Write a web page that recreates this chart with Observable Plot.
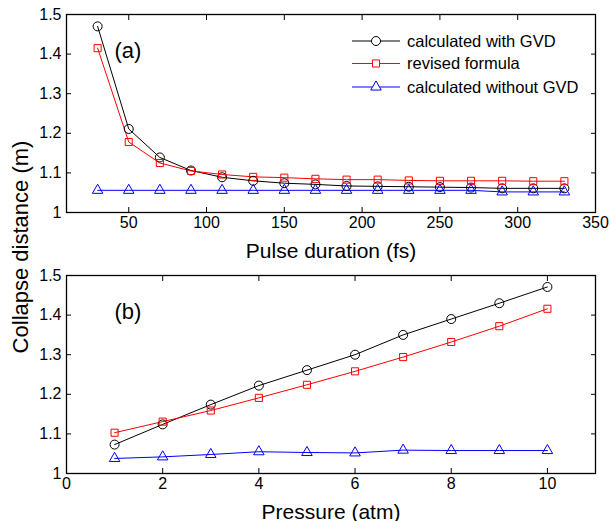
<!DOCTYPE html>
<html><head><meta charset="utf-8">
<script src="https://cdn.jsdelivr.net/npm/d3@7"></script>
<script src="https://cdn.jsdelivr.net/npm/@observablehq/plot@0.6"></script>
<style>
body{margin:0;background:#fff;}
#wrap{position:relative;width:610px;height:521px;font-family:"Liberation Sans",Arial,sans-serif;overflow:hidden;}
#wrap > svg{display:block;}
#ylab{position:absolute;left:21px;top:247px;transform:translate(-50%,-50%) rotate(-90deg);font-size:22px;white-space:nowrap;color:#000;}
#legend{position:absolute;left:0;top:0;}
</style></head><body><div id="wrap"></div>
<script>
// ---- data ----
const seriesNames = ["calculated with GVD", "revised formula", "calculated without GVD"];
const seriesColors = ["#000000", "#ff0000", "#0000ff"];
const seriesSymbols = ["circle", "square", "triangle"];

const duration = [30, 50, 70, 90, 110, 130, 150, 170, 190, 210, 230, 250, 270, 290, 310, 330];
const durWithGVD    = [1.470, 1.211, 1.139, 1.106, 1.089, 1.080, 1.074, 1.071, 1.067, 1.066, 1.065, 1.064, 1.063, 1.061, 1.061, 1.061];
const durRevised    = [1.415, 1.178, 1.125, 1.105, 1.096, 1.090, 1.088, 1.085, 1.083, 1.083, 1.081, 1.080, 1.080, 1.080, 1.079, 1.079];
const durWithoutGVD = [1.056, 1.056, 1.056, 1.056, 1.056, 1.056, 1.056, 1.056, 1.056, 1.056, 1.056, 1.056, 1.056, 1.052, 1.052, 1.052];

const pressure = [1, 2, 3, 4, 5, 6, 7, 8, 9, 10];
const presWithGVD    = [1.073, 1.124, 1.174, 1.222, 1.261, 1.300, 1.350, 1.390, 1.430, 1.471];
const presRevised    = [1.103, 1.131, 1.159, 1.191, 1.224, 1.258, 1.294, 1.332, 1.372, 1.416];
const presWithoutGVD = [1.038, 1.042, 1.048, 1.055, 1.053, 1.052, 1.059, 1.058, 1.058, 1.058];

const yTicks = [1, 1.1, 1.2, 1.3, 1.4, 1.5];
const durTicks = [50, 100, 150, 200, 250, 300, 350];
const presTicks = [0, 2, 4, 6, 8, 10];

const font = "Liberation Sans, Arial, Helvetica, sans-serif";

function panel({xs, ys, xDomain, xTicks, xLabel, tag, height, marginTop, marginBottom}) {
  const rows = [];
  seriesNames.forEach((s, i) => xs.forEach((xv, j) => rows.push({x: xv, y: ys[i][j], s})));
  const dotR = {"calculated with GVD": 4.5, "revised formula": 4.0, "calculated without GVD": 3.9};
  return Plot.plot({
    width: 610, height, marginLeft: 66, marginRight: 15, marginTop, marginBottom,
    style: {fontFamily: font, fontSize: "16px", color: "#000", background: "transparent", overflow: "visible"},
    x: {domain: xDomain},
    y: {domain: [1, 1.5]},
    color: {domain: seriesNames, range: seriesColors},
    symbol: {domain: seriesNames, range: seriesSymbols},
    marks: [
      Plot.axisX({anchor: "bottom", ticks: xTicks, tickSize: -5, tickPadding: 9, label: xLabel, labelAnchor: "center", labelArrow: "none", labelOffset: 45, fontSize: 16}),
      Plot.axisX({anchor: "top", ticks: xTicks, tickSize: -5, tickFormat: () => "", label: null}),
      Plot.axisY({anchor: "left", ticks: yTicks, tickSize: -5, tickPadding: 10, tickFormat: d => String(+d.toFixed(1)), label: null, fontSize: 16}),
      Plot.axisY({anchor: "right", ticks: yTicks, tickSize: -5, tickFormat: () => "", label: null}),
      Plot.frame({stroke: "#000", strokeWidth: 1.3}),
      Plot.line(rows, {x: "x", y: "y", z: "s", stroke: "s", strokeWidth: 1}),
      ...seriesNames.map(s => Plot.dot(rows.filter(d => d.s === s), {x: "x", y: "y", stroke: "s", symbol: "s", r: dotR[s], fill: "none", strokeWidth: 1})),
      Plot.text([tag], {frameAnchor: "top-left", dx: 48, dy: 28, fontSize: 22, textAnchor: "start"})
    ]
  });
}

const wrap = document.getElementById("wrap");
const top1 = panel({xs: duration, ys: [durWithGVD, durRevised, durWithoutGVD], xDomain: [10, 350], xTicks: durTicks,
  xLabel: "Pulse duration (fs)", tag: "(a)", height: 262, marginTop: 14, marginBottom: 50});
const bot = panel({xs: pressure, ys: [presWithGVD, presRevised, presWithoutGVD], xDomain: [0, 11], xTicks: presTicks,
  xLabel: "Pressure (atm)", tag: "(b)", height: 259, marginTop: 13, marginBottom: 48});
// adjust label font size
[top1, bot].forEach(svg => {
  svg.querySelectorAll("[aria-label='x-axis label'] text, [aria-label='x-axis label']").forEach(t => { if (t.tagName === "text" || t.tagName === "g") t.setAttribute("font-size", "21"); });
});
wrap.appendChild(top1);
wrap.appendChild(bot);

const ylab = document.createElement("div");
ylab.id = "ylab";
ylab.textContent = "Collapse distance (m)";
wrap.appendChild(ylab);

// legend
const legendYs = [41, 63.5, 87];
const lg = d3.select(wrap).append("svg").attr("id", "legend").attr("width", 610).attr("height", 120)
  .attr("font-family", font);
seriesNames.forEach((s, i) => {
  const g = lg.append("g").attr("transform", `translate(0,${legendYs[i]})`);
  g.append("line").attr("x1", 352).attr("x2", 400).attr("y1", 0).attr("y2", 0).attr("stroke", seriesColors[i]).attr("stroke-width", 1);
  const r = [4.5, 4.0, 3.9][i];
  g.append("path").attr("transform", "translate(376,0)")
    .attr("d", d3.symbol(i === 0 ? d3.symbolCircle : i === 1 ? d3.symbolSquare : d3.symbolTriangle, Math.PI * r * r)())
    .attr("fill", "#fff").attr("stroke", seriesColors[i]);
  g.append("text").attr("x", 407).attr("y", 0).attr("dy", "0.35em").attr("font-size", 16.5).attr("fill", "#000").text(s);
});
</script>
</body></html>
